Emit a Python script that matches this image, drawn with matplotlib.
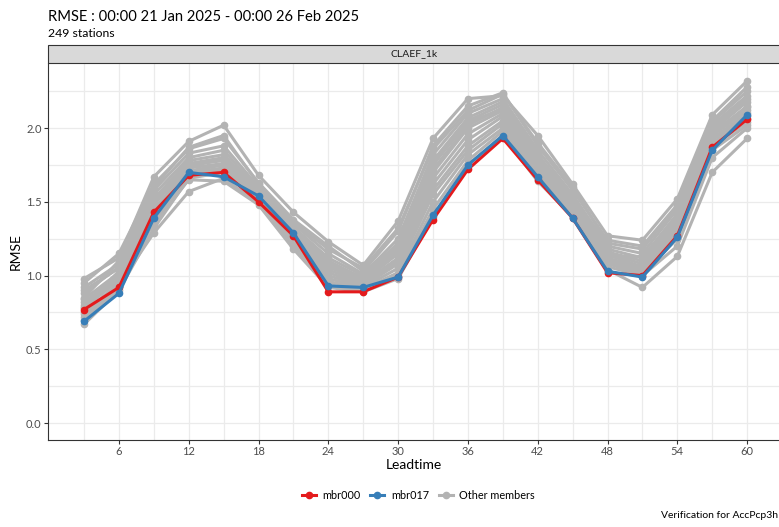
import matplotlib.pyplot as plt
from matplotlib.patches import Rectangle
from matplotlib.lines import Line2D

plt.rcParams['font.family'] = ['Lato', 'DejaVu Sans']

leadtime = [3, 6, 9, 12, 15, 18, 21, 24, 27, 30, 33, 36, 39, 42, 45, 48, 51, 54, 57, 60]

mbr000 = [0.77, 0.92, 1.43, 1.68, 1.70, 1.50, 1.27, 0.89, 0.89, 0.99, 1.38, 1.72, 1.93, 1.65,
          1.39, 1.02, 1.00, 1.27, 1.87, 2.06]
mbr017 = [0.69, 0.88, 1.39, 1.70, 1.67, 1.54, 1.29, 0.93, 0.92, 0.99, 1.41, 1.75, 1.95, 1.67,
          1.39, 1.03, 0.99, 1.26, 1.85, 2.09]

# the other members (grey)
other_members = [
    [0.98, 1.12, 1.67, 1.91, 2.02, 1.68, 1.43, 1.23, 1.07, 1.37, 1.93, 2.20, 2.22, 1.95, 1.62, 1.27, 1.24, 1.52, 2.09, 2.32],
    [0.95, 1.15, 1.62, 1.86, 1.93, 1.63, 1.38, 1.20, 1.03, 1.30, 1.88, 2.15, 2.24, 1.88, 1.58, 1.24, 1.20, 1.48, 2.05, 2.28],
    [0.92, 1.08, 1.58, 1.83, 1.88, 1.60, 1.35, 1.15, 1.01, 1.25, 1.82, 2.10, 2.20, 1.85, 1.55, 1.20, 1.15, 1.45, 2.02, 2.22],
    [0.90, 1.05, 1.55, 1.80, 1.85, 1.58, 1.33, 1.12, 1.00, 1.22, 1.78, 2.07, 2.18, 1.82, 1.53, 1.18, 1.12, 1.42, 2.00, 2.20],
    [0.84, 1.02, 1.52, 1.78, 1.82, 1.57, 1.31, 1.10, 0.98, 1.20, 1.75, 2.05, 2.16, 1.80, 1.51, 1.16, 1.10, 1.40, 1.98, 2.18],
    [0.82, 1.00, 1.50, 1.76, 1.80, 1.56, 1.30, 1.08, 0.97, 1.18, 1.72, 2.02, 2.14, 1.78, 1.50, 1.15, 1.08, 1.38, 1.96, 2.15],
    [0.80, 0.98, 1.48, 1.75, 1.78, 1.55, 1.28, 1.06, 0.96, 1.15, 1.70, 2.00, 2.12, 1.76, 1.48, 1.14, 1.06, 1.36, 1.95, 2.12],
    [0.78, 0.97, 1.45, 1.73, 1.76, 1.54, 1.27, 1.04, 0.95, 1.12, 1.66, 1.96, 2.10, 1.74, 1.47, 1.12, 1.05, 1.34, 1.93, 2.10],
    [0.75, 0.95, 1.42, 1.71, 1.75, 1.53, 1.26, 1.02, 0.94, 1.10, 1.62, 1.92, 2.08, 1.72, 1.46, 1.11, 1.04, 1.32, 1.92, 2.08],
    [0.72, 0.93, 1.40, 1.70, 1.73, 1.52, 1.25, 1.00, 0.93, 1.08, 1.58, 1.88, 2.05, 1.70, 1.45, 1.10, 1.03, 1.30, 1.90, 2.06],
    [0.70, 0.92, 1.36, 1.68, 1.72, 1.51, 1.24, 0.98, 0.92, 1.05, 1.55, 1.85, 2.03, 1.69, 1.44, 1.09, 1.02, 1.28, 1.88, 2.04],
    [0.67, 0.90, 1.32, 1.66, 1.70, 1.50, 1.22, 0.96, 0.91, 1.02, 1.50, 1.82, 2.00, 1.68, 1.43, 1.08, 1.01, 1.25, 1.85, 2.02],
    [0.74, 0.94, 1.29, 1.57, 1.66, 1.49, 1.20, 0.94, 0.90, 1.00, 1.45, 1.78, 1.98, 1.66, 1.42, 1.06, 1.00, 1.20, 1.80, 2.00],
    [0.85, 1.10, 1.60, 1.87, 1.95, 1.62, 1.36, 1.18, 1.05, 1.32, 1.86, 2.12, 2.23, 1.90, 1.60, 1.22, 1.18, 1.47, 2.04, 2.25],
    [0.88, 1.06, 1.35, 1.65, 1.64, 1.48, 1.18, 0.92, 0.89, 0.98, 1.40, 1.75, 1.95, 1.64, 1.40, 1.04, 0.92, 1.13, 1.70, 1.93],
    [0.79, 1.03, 1.44, 1.74, 1.79, 1.55, 1.29, 1.07, 0.99, 1.16, 1.76, 2.04, 2.13, 1.79, 1.52, 1.13, 1.13, 1.39, 1.97, 2.14],
]

xticks = [6, 12, 18, 24, 30, 36, 42, 48, 54, 60]
yticks = [0.0, 0.5, 1.0, 1.5, 2.0]

grey = '#b3b3b3'
red = '#e41a1c'
blue = '#377eb8'

fig = plt.figure(figsize=(7.79, 5.27), dpi=100)
ax = fig.add_axes([0.0616, 0.165, 0.94, 0.715])

for m in other_members:
    ax.plot(leadtime, m, color=grey, lw=2.2, marker='o', ms=4.5, zorder=2)
ax.plot(leadtime, mbr000, color=red, lw=2.2, marker='o', ms=4.5, zorder=3)
ax.plot(leadtime, mbr017, color=blue, lw=2.2, marker='o', ms=4.5, zorder=4)

ax.set_xlim(-0.1, 62.85)
ax.set_ylim(-0.115, 2.44)
ax.set_xticks(xticks)
ax.set_xticks(range(3, 61, 6), minor=True)
ax.set_yticks(yticks)
ax.set_yticks([0.25, 0.75, 1.25, 1.75, 2.25], minor=True)
ax.set_yticklabels(['0.0', '0.5', '1.0', '1.5', '2.0'])
ax.grid(True, which='both', color='#ebebeb', lw=0.9, zorder=0)
ax.set_axisbelow(True)
ax.tick_params(which='both', length=3, pad=1.5, color='#333333', labelsize=8, labelcolor='#4d4d4d')
ax.tick_params(which='minor', length=0)
for s in ['top', 'right']:
    ax.spines[s].set_visible(False)
for s in ['left', 'bottom']:
    ax.spines[s].set_color('#333333')
    ax.spines[s].set_linewidth(0.8)
ax.set_xlabel('Leadtime', fontsize=10, labelpad=1)
ax.set_ylabel('RMSE', fontsize=10, labelpad=3)

# facet strip
fig.patches.append(Rectangle((0.0616, 0.880), 0.94, 0.035, transform=fig.transFigure,
                             facecolor='#d9d9d9', edgecolor='#333333', lw=0.8))
fig.text(0.0616 + 0.94 / 2, 0.8975, 'CLAEF_1k', ha='center', va='center', fontsize=7.5, color='#1a1a1a')

fig.text(0.0616, 0.968, 'RMSE : 00:00 21 Jan 2025 - 00:00 26 Feb 2025', fontsize=10.6, va='center')
fig.text(0.0616, 0.937, '249 stations', fontsize=8.8, va='center')

handles = [Line2D([], [], color=c, lw=2.2, marker='o', ms=4.5) for c in (red, blue, grey)]
fig.legend(handles, ['mbr000', 'mbr017', 'Other members'], loc='center', ncol=3,
           bbox_to_anchor=(0.537, 0.06), frameon=False, fontsize=7.8,
           handlelength=1.3, columnspacing=0.9, handletextpad=0.6)

fig.text(0.999, 0.013, 'Verification for AccPcp3h', ha='right', va='bottom', fontsize=7.5)

fig.savefig('out.png', dpi=100)
